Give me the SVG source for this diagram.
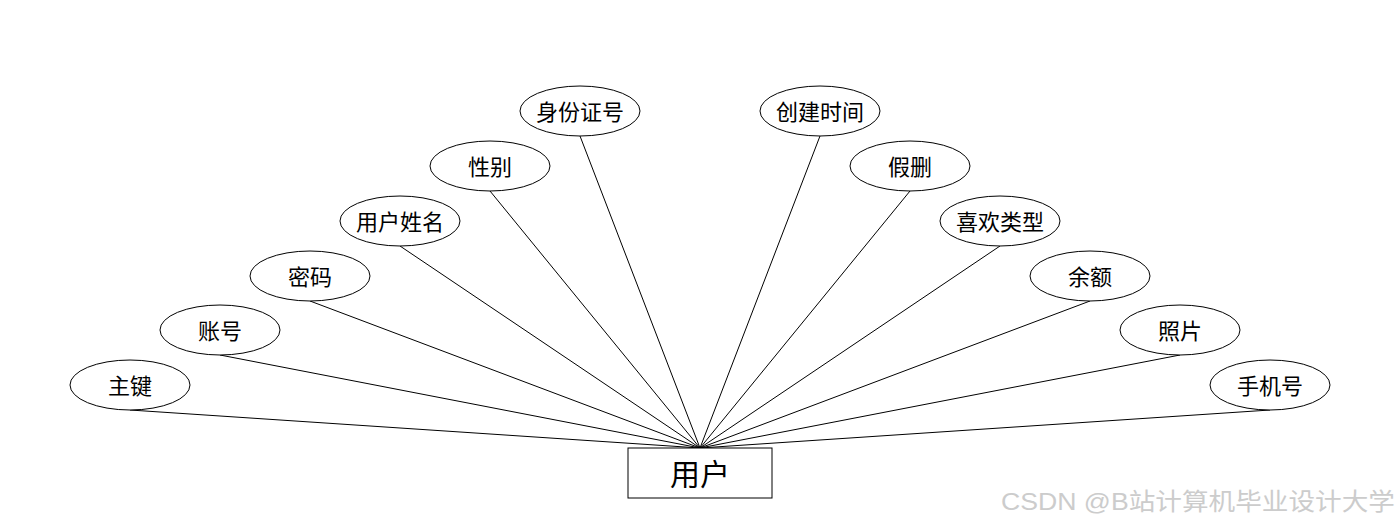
<svg xmlns="http://www.w3.org/2000/svg" width="1400" height="528" viewBox="0 0 1400 528">
<style>
.attr ellipse{fill:#fff;stroke:#000;stroke-width:1}
.attr text{font-family:"Microsoft YaHei","Noto Sans CJK SC",sans-serif;font-size:22px;fill:#000;text-anchor:middle;dominant-baseline:central}
.conn line{stroke:#000;stroke-width:1}
.ent rect{fill:#fff;stroke:#000;stroke-width:1}
.ent text{font-family:"Noto Sans CJK SC",sans-serif;font-size:30px;fill:#000;text-anchor:middle;dominant-baseline:central}
.wm{font-family:"Liberation Sans","Noto Sans CJK SC",sans-serif;font-size:24px;fill:#cccccc}
</style>
<rect width="1400" height="528" fill="#fff"/>
<g id="connectors" class="conn">
<line x1="130" y1="410" x2="700" y2="448"/>
<line x1="220" y1="355" x2="700" y2="448"/>
<line x1="310" y1="301" x2="700" y2="448"/>
<line x1="400" y1="246" x2="700" y2="448"/>
<line x1="490" y1="191" x2="700" y2="448"/>
<line x1="580" y1="136" x2="700" y2="448"/>
<line x1="820" y1="136" x2="700" y2="448"/>
<line x1="910" y1="191" x2="700" y2="448"/>
<line x1="1000" y1="246" x2="700" y2="448"/>
<line x1="1090" y1="301" x2="700" y2="448"/>
<line x1="1180" y1="355" x2="700" y2="448"/>
<line x1="1270" y1="410" x2="700" y2="448"/>
</g>
<g id="user" class="ent"><rect x="628" y="448" width="144" height="50"/><text x="700" y="472">用户</text></g>
<g id="zhujian" class="attr"><ellipse cx="130" cy="385" rx="60" ry="25"/><text x="130" y="384">主键</text></g>
<g id="zhanghao" class="attr"><ellipse cx="220" cy="330" rx="60" ry="25"/><text x="220" y="329">账号</text></g>
<g id="mima" class="attr"><ellipse cx="310" cy="276" rx="60" ry="25"/><text x="310" y="275">密码</text></g>
<g id="xingming" class="attr"><ellipse cx="400" cy="221" rx="60" ry="25"/><text x="400" y="220">用户姓名</text></g>
<g id="xingbie" class="attr"><ellipse cx="490" cy="166" rx="60" ry="25"/><text x="490" y="165">性别</text></g>
<g id="shenfenzheng" class="attr"><ellipse cx="580" cy="111" rx="60" ry="25"/><text x="580" y="110">身份证号</text></g>
<g id="chuangjian" class="attr"><ellipse cx="820" cy="111" rx="60" ry="25"/><text x="820" y="110">创建时间</text></g>
<g id="jiashan" class="attr"><ellipse cx="910" cy="166" rx="60" ry="25"/><text x="910" y="165">假删</text></g>
<g id="xihuan" class="attr"><ellipse cx="1000" cy="221" rx="60" ry="25"/><text x="1000" y="220">喜欢类型</text></g>
<g id="yue" class="attr"><ellipse cx="1090" cy="276" rx="60" ry="25"/><text x="1090" y="275">余额</text></g>
<g id="zhaopian" class="attr"><ellipse cx="1180" cy="330" rx="60" ry="25"/><text x="1180" y="329">照片</text></g>
<g id="shouji" class="attr"><ellipse cx="1270" cy="385" rx="60" ry="25"/><text x="1270" y="384">手机号</text></g>
<text class="wm" x="1001" y="510" textLength="394" lengthAdjust="spacingAndGlyphs">CSDN @B站计算机毕业设计大学</text>
</svg>
